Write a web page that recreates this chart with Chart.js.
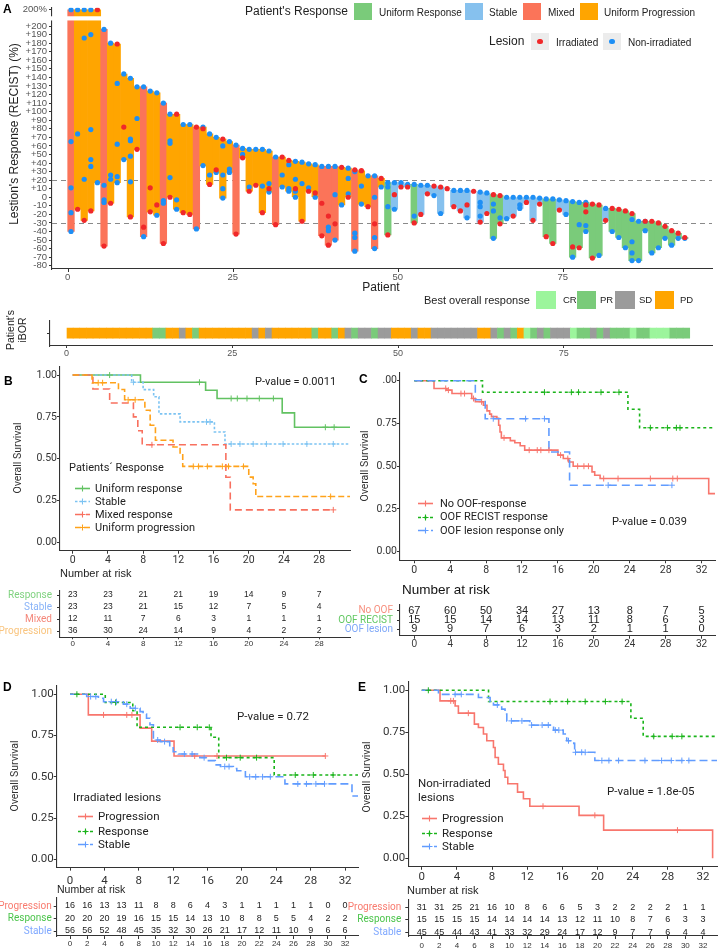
<!DOCTYPE html>
<html>
<head>
<meta charset="utf-8">
<title>Lesion response and overall survival</title>
<script src="https://cdn.jsdelivr.net/npm/chart.js@4.4.1/dist/chart.umd.min.js"></script>
<style>
  html, body { margin: 0; padding: 0; background: #fff; }
  #page { position: relative; width: 718px; height: 949px; overflow: hidden; background: #fff; }
  #page canvas { position: absolute; }
  .t { position: absolute; white-space: nowrap; line-height: 1.1; }
  .b { position: absolute; }
</style>
</head>
<body>
<div id="page"></div>
<script>
"use strict";

// ===== Panel A : waterfall =====
var CAP = 219; // the "200%" row above the axis break

var PATIENT_RESPONSE = [
  'MX','UP','UP','UP','UP','MX','UP','UP','UP','UP',
  'UP','MX','UP','UP','MX','UP','UP','UP','UP','MX',
  'UP','UP','UP','UP','UP','MX','UP','UP','UP','UP',
  'UP','MX','UP','UP','UP','UP','UP','UP','MX','MX',
  'MX','UP','UP','MX','UP','UP','MX','UP','UR','ST',
  'ST','ST','UR','ST','ST','ST','ST','ST','ST','ST',
  'ST','ST','ST','ST','UR','UR','ST','ST','ST','ST',
  'ST','ST','UR','UR','ST','ST','UR','UR','UR','UR',
  'UR','ST','UR','UR','UR','UR','UR','UR','UR','UR',
  'UR','UR','UR','UR'
];

var IRRADIATED = [
  [], [-14], [-27], [-16], [CAP], [-57], [-7], [179], [82], [-23],
  [56], [-35], [11, -17], [-9], [-54], [0], [97], [-18], [-20], [82],
  [80], [15], [32], [68], [], [-43], [46], [7], [14], [-18],
  [10], [-32], [47], [43], [10], [-28], [7], [5], [-7, -45], [-22, -56],
  [-31], [35], [0], [32], [31], [-11], [-31], [22], [-44], [3],
  [12], [12], [-30], [-20], [4], [13], [12], [10], [-11], [-16],
  [-9], [7], [-29], [-19], [3], [2, -31], [], [-22], [], [-6],
  [-27], [-8], [-46], [-54], [-15], [], [-58], [-59], [-9, -17], [-8, -71],
  [-9], [-27], [-13], [-14], [-16], [-19], [], [-28], [-28], [-30],
  [-34], [-39], [-42], [-47]
];

var NON_IRRADIATED = [
  [CAP, 65, 11, -18, -40], [CAP, 74], [CAP, 186, 21], [CAP, 190, 79, 44, 36], [17],
  [196, 14, -3, -6], [180, 26, 21], [133, 62, 24, 17], [144, 44], [139, 68, 66, 48, 18],
  [129, 92], [129, -46], [124], [122, -21], [110, -4, -7],
  [97, 66, 63, 23], [-3, -14], [85], [85], [-37],
  [82, 37], [74, 26], [70, 29], [60, 26, 10, -1], [65, 33, 29],
  [61], [57, 50], [56, 12], [56], [56, 13],
  [54, 16, 6], [47], [26, 12], [38, 10, 7], [42, 21, 7, 0],
  [41, 16], [39, 11], [38, 0], [36], [36, -35, -39],
  [36, 3, -50], [-9], [34, 22, 4], [30, -42, -47, -63], [13, -8],
  [25], [25, 0, -47, -60], [12], [17, 12, -11], [17, -14],
  [17], [15], [15, -22], [14], [14],
  [2], [-19], [], [8], [8],
  [8, -24], [], [6, -6, -11, -22], [5], [-8, -16, -48],
  [-24], [0, -25], [0], [0, -9, -13], [0],
  [0], [-1], [-2], [-2], [-3],
  [-4, -20], [-5, -70], [-6, -32], [-6, -33, -40], [],
  [-68], [-13], [-40], [-47], [-59],
  [-26, -52, -65, -74], [-28, -74], [-28, -39], [-65], [-59],
  [-48], [-56], [-48], [-48]
];

var BEST_OVERALL = [
  'PD','PD','PD','PD','PD','PD','PD','PD','PD','PD',
  'PD','PD','PD','PR','PR','PD','PD','SD','PD','PR',
  'PD','PD','PD','PD','PD','PD','PD','PD','SD','PD',
  'SD','PD','PD','PD','PD','PD','PD','PR','PD','PD',
  'PR','PD','SD','PR','SD','SD','PR','SD','SD','PD',
  'PD','PD','SD','PD','PD','SD','SD','SD','SD','SD',
  'SD','SD','PD','PD','SD','PR','SD','PR','PD','CR',
  'PR','SD','PR','SD','SD','SD','CR','PR','PR','SD',
  'PR','SD','PR','PR','PR','CR','PR','PR','CR','CR',
  'CR','PR','PR','PR'
];

var THRESHOLDS = [20, -30];
var X_TICKS_A = [0, 25, 50, 75];
var Y_TICKS_A = [-80, -70, -60, -50, -40, -30, -20, -10, 0, 10, 20, 30, 40, 50, 60, 70, 80, 90,
  100, 110, 120, 130, 140, 150, 160, 170, 180, 190, 200, CAP];

// ===== Panel B : patients' response =====
var B_UR_T = [0, 7.7, 15.1, 16.4, 23.8, 25.2, 31.5];
var B_UR_S = [1, 0.957, 0.909, 0.86, 0.774, 0.688, 0.688];
var B_UR_C = [4.2, 14.4, 18.0, 18.7, 19.8, 21.2, 22.8, 28.7, 29.7];
var B_ST_T = [0, 6.7, 8.0, 9.2, 9.8, 12.2, 16.1, 17.3, 31.5];
var B_ST_S = [1, 0.957, 0.913, 0.87, 0.768, 0.72, 0.66, 0.588, 0.588];
var B_ST_C = [6.9, 15.2, 15.6, 18.0, 19.0, 20.5, 22.0, 23.9, 26.6, 29.6];
var B_MX_T = [0, 2.3, 4.2, 6.9, 7.4, 7.9, 17.4, 17.9, 29.6];
var B_MX_S = [1, 0.917, 0.833, 0.75, 0.667, 0.583, 0.389, 0.194, 0.194];
var B_MX_C = [9.0, 29.6];
var B_UP_T = [0, 2.2, 5.2, 5.9, 8.2, 8.8, 9.4, 11.4, 12.2, 12.5, 20.0, 20.5, 20.8, 31.5];
var B_UP_S = [1, 0.954, 0.914, 0.852, 0.79, 0.7, 0.61, 0.57, 0.53, 0.454, 0.39, 0.35, 0.274, 0.274];
var B_UP_C = [2.9, 3.4, 6.3, 7.1, 13.7, 14.3, 15.3, 17.0, 17.7, 19.4, 29.3];
var B_RISK_T = [0, 4, 8, 12, 16, 20, 24, 28];
var B_RISK_LABELS = ['Response', 'Stable', 'Mixed', 'Progression'];
var B_RISK = [
  [23, 23, 21, 21, 19, 14, 9, 7],
  [23, 23, 21, 15, 12, 7, 5, 4],
  [12, 11, 7, 6, 3, 1, 1, 1],
  [36, 30, 24, 14, 9, 4, 2, 2]
];

// ===== Panel C : out-of-field response =====
var C_NO_T = [0, 2.2, 3.6, 4.2, 6.4, 6.8, 7.7, 8.1, 8.4, 8.6, 9.2, 9.4, 9.55, 9.7, 10.7, 11.2, 11.8, 12.3,
  16.0, 16.6, 17.2, 17.7, 19.8, 20.1, 20.7, 32.8, 33.5];
var C_NO_S = [1, 0.955, 0.945, 0.925, 0.896, 0.877, 0.857, 0.824, 0.805, 0.79, 0.78, 0.74, 0.70, 0.666, 0.65,
  0.637, 0.62, 0.594, 0.565, 0.545, 0.525, 0.5, 0.467, 0.447, 0.428, 0.34, 0.34];
var C_NO_C = [3.5, 3.8, 5.2, 5.6, 6.6, 7.5, 10.0, 12.8, 13.7, 14.1, 15.0, 16.3, 17.1, 18.2, 18.9, 19.4,
  21.1, 22.7, 26.3, 28.8, 29.3];
var C_REC_T = [0, 7.6, 23.8, 25.1, 33.5];
var C_REC_S = [1, 0.933, 0.833, 0.725, 0.725];
var C_REC_C = [14.5, 17.5, 18.3, 20.8, 22.8, 26.3, 28.2, 29.2, 29.6];
var C_LES_T = [0, 6.8, 7.9, 15.0, 17.3, 28.7];
var C_LES_S = [1, 0.889, 0.778, 0.583, 0.389, 0.389];
var C_LES_C = [8.8, 12.4, 14.5, 21.6, 28.7];
var C_RISK_T = [0, 4, 8, 12, 16, 20, 24, 28, 32];
var C_RISK_LABELS = ['No OOF', 'OOF RECIST', 'OOF lesion'];
var C_RISK = [
  [67, 60, 50, 34, 27, 13, 8, 7, 5],
  [15, 15, 14, 14, 13, 11, 8, 6, 3],
  [9, 9, 7, 6, 3, 2, 1, 1, 0]
];

// ===== Panel D : irradiated lesions =====
var D_PG_T = [0, 2.13, 8.15, 9.5, 12.1, 29.7];
var D_PG_S = [1, 0.875, 0.795, 0.716, 0.626, 0.626];
var D_PG_C = [3.9, 6.6, 7.2, 14.5, 17.1, 29.7];
var D_RS_T = [0, 4.1, 7.3, 7.8, 16.4, 17.3, 23.75, 33.8];
var D_RS_S = [1, 0.95, 0.90, 0.80, 0.74, 0.616, 0.511, 0.511];
var D_RS_C = [0.8, 5.3, 12.8, 14.8, 16.2, 18.2, 19.8, 21.7, 26.2, 28.3, 30.6];
var D_SB_T = [0, 1.94, 3.3, 3.9, 6.2, 7.0, 8.15, 8.5, 8.9, 9.3, 9.7, 10.5, 11.6, 12.0, 12.6, 15.1, 16.1,
  16.9, 17.5, 19.0, 19.4, 20.4, 25.0, 32.8, 33.8];
var D_SB_S = [1, 0.986, 0.976, 0.955, 0.94, 0.915, 0.895, 0.88, 0.855, 0.815, 0.723, 0.713, 0.683, 0.652,
  0.638, 0.616, 0.598, 0.572, 0.562, 0.55, 0.537, 0.5, 0.457, 0.384, 0.384];
var D_SB_C = [2.4, 3.0, 4.8, 5.4, 6.6, 7.6, 10.2, 11.0, 13.3, 14.2, 15.6, 18.0, 18.5, 20.9, 21.6, 22.4,
  23.3, 26.5, 27.5, 28.6, 29.6];
var DE_RISK_T = [0, 2, 4, 6, 8, 10, 12, 14, 16, 18, 20, 22, 24, 26, 28, 30, 32];
var LESION_RISK_LABELS = ['Progression', 'Response', 'Stable'];
var D_RISK = [
  [16, 16, 13, 13, 11, 8, 8, 6, 4, 3, 1, 1, 1, 1, 1, 0, 0],
  [20, 20, 20, 19, 16, 15, 15, 14, 13, 10, 8, 8, 5, 5, 4, 2, 2],
  [56, 56, 52, 48, 45, 35, 32, 30, 26, 21, 17, 12, 11, 10, 9, 6, 6]
];

// ===== Panel E : non-irradiated lesions =====
var E_PG_T = [0, 2.08, 3.8, 4.17, 5.99, 6.45, 7.02, 7.4, 8.16, 8.35, 8.72, 9.3, 9.48, 9.79, 10.9, 11.57,
  12.3, 17.9, 20.7, 33.1];
var E_PG_S = [1, 0.937, 0.907, 0.864, 0.799, 0.779, 0.74, 0.70, 0.66, 0.60, 0.56, 0.523, 0.483, 0.444,
  0.394, 0.355, 0.31, 0.256, 0.168, 0];
var E_PG_C = [3.3, 3.6, 5.3, 13.8, 19.7, 29.1];
var E_RS_T = [0, 7.6, 23.8, 25.2, 33.8];
var E_RS_S = [1, 0.933, 0.834, 0.726, 0.726];
var E_RS_C = [0.75, 14.6, 16.6, 18.6, 20.9, 22.8, 26.4, 28.5, 29.6];
var E_SB_T = [0, 1.9, 6.45, 7.78, 8.16, 9.1, 9.48, 9.68, 12.3, 15.0, 16.1, 16.5, 17.3, 17.4, 19.7, 33.8];
var E_SB_S = [1, 0.976, 0.957, 0.931, 0.913, 0.888, 0.858, 0.818, 0.793, 0.763, 0.74, 0.70, 0.684, 0.631,
  0.582, 0.582];
var E_SB_C = [3.8, 4.5, 8.6, 10.2, 11.4, 12.5, 13.7, 14.4, 15.2, 15.6, 16.7, 17.5, 18.2, 18.6, 20.5, 21.3,
  22.4, 25.4, 27.3, 28.4, 29.6, 30.4];
var E_RISK = [
  [31, 31, 25, 21, 16, 10, 8, 6, 6, 5, 3, 2, 2, 2, 2, 1, 1],
  [15, 15, 15, 15, 14, 14, 14, 14, 13, 12, 11, 10, 8, 7, 6, 3, 3],
  [45, 45, 44, 43, 41, 33, 32, 29, 24, 17, 12, 9, 7, 7, 6, 4, 4]
];

var KM_Y_TICKS = [0, 0.25, 0.5, 0.75, 1];

// ---------- styles ----------
var KMF = "Roboto, 'Liberation Sans', sans-serif";
var ARF = "'Liberation Sans', Arial, sans-serif";
var AXIS_C = '#333';
var RESP_COLORS = { UR: '#7acb7a', ST: '#86c1ee', MX: '#fb7459', UP: '#ffa500' };
var BOR_COLORS = { CR: '#9cf59c', PR: '#7acb7a', SD: '#9b9b9b', PD: '#ffa500' };
var RED_DOT = '#f0282a', BLUE_DOT = '#1e8ff5';
var KM_RED = '#f8766d', KM_GREEN = '#1ab41a', KM_BLUE = '#619cff';

Chart.defaults.animation = false;
Chart.defaults.font.family = ARF;

var page = document.getElementById('page');

function mkCanvas(x, y, w, h) {
  var c = document.createElement('canvas');
  c.width = w; c.height = h;
  c.style.left = x + 'px'; c.style.top = y + 'px';
  c.style.width = w + 'px'; c.style.height = h + 'px';
  page.appendChild(c);
  return c;
}

function txt(s, x, y, o) {
  o = o || {};
  var d = document.createElement('div');
  d.className = 't';
  if (o.html) d.innerHTML = s; else d.textContent = s;
  d.style.left = x + 'px';
  d.style.top = y + 'px';
  d.style.fontSize = (o.size || 11) + 'px';
  d.style.fontFamily = o.font || KMF;
  d.style.color = o.color || '#222';
  if (o.bold) d.style.fontWeight = 'bold';
  if (o.rot) {
    d.style.textAlign = 'center';
    d.style.transform = 'translate(-50%,-50%) rotate(-90deg)';
  } else {
    var tx = o.align === 'right' ? '-100%' : o.align === 'center' ? '-50%' : '0';
    d.style.transform = 'translate(' + tx + ',-50%)';
  }
  page.appendChild(d);
}

function box(x, y, w, h, color) {
  var d = document.createElement('div');
  d.className = 'b';
  d.style.cssText = 'left:' + x + 'px;top:' + y + 'px;width:' + w + 'px;height:' + h + 'px;background:' + color;
  page.appendChild(d);
}

function dot(cx, cy, r, color) {
  var d = document.createElement('div');
  d.className = 'b';
  d.style.cssText = 'left:' + (cx - r) + 'px;top:' + (cy - r) + 'px;width:' + (2 * r) + 'px;height:' + (2 * r) +
    'px;border-radius:50%;background:' + color;
  page.appendChild(d);
}

function keyLine(x, y, color, dash) {
  var svg = '<svg width="15" height="9" style="position:absolute;left:' + x + 'px;top:' + (y - 4.5) + 'px">' +
    '<line x1="0" y1="4.5" x2="15" y2="4.5" stroke="' + color + '" stroke-width="1.6"' +
    (dash ? ' stroke-dasharray="' + dash.join(',') + '"' : '') + '/>' +
    '<path d="M7.5 1.5V7.5M4.5 4.5H10.5" stroke="' + color + '" stroke-width="1.1"/></svg>';
  page.insertAdjacentHTML('beforeend', svg);
}

function fixW(w) { return function(s) { s.width = w; }; }
function fixH(h) { return function(s) { s.height = h; }; }
function setTicks(vals) {
  return function(s) { s.ticks = vals.map(function(v) { return { value: v }; }); };
}

function axis(o, tl) {
  o.grid = { drawOnChartArea: false, drawTicks: true, offset: false, tickLength: tl == null ? 3 : tl,
    color: AXIS_C, lineWidth: 1 };
  o.border = { display: true, color: AXIS_C, width: 1.1 };
  o.ticks = o.ticks || {};
  o.ticks.autoSkip = false;
  o.ticks.maxRotation = 0;
  if (!o.ticks.color) o.ticks.color = '#333';
  return o;
}

function stepAt(T, S, t) {
  var v = S[0];
  for (var i = 0; i < T.length; i++) { if (T[i] <= t) v = S[i]; }
  return v;
}

// dashed reference lines at +20% / -30%, and the x tick marks of the waterfall
var thresholdLines = {
  id: 'thresholdLines',
  beforeDatasetsDraw: function(chart) {
    var ctx = chart.ctx, a = chart.chartArea, y = chart.scales.y, x = chart.scales.x;
    ctx.save();
    ctx.strokeStyle = '#8a8a8a';
    ctx.lineWidth = 1;
    ctx.setLineDash([5, 4]);
    THRESHOLDS.forEach(function(v) {
      var py = Math.round(y.getPixelForValue(v)) + 0.5;
      ctx.beginPath(); ctx.moveTo(a.left, py); ctx.lineTo(a.right, py); ctx.stroke();
    });
    ctx.setLineDash([]);
    ctx.strokeStyle = AXIS_C;
    X_TICKS_A.forEach(function(v) {
      var px = Math.round(x.getPixelForValue(v)) + 0.5;
      ctx.beginPath(); ctx.moveTo(px, a.bottom); ctx.lineTo(px, a.bottom + 3); ctx.stroke();
    });
    ctx.restore();
  }
};

// gap between the 200% row and the regular axis
var axisBreak = {
  id: 'axisBreak',
  afterDatasetsDraw: function(chart) {
    var ctx = chart.ctx, a = chart.chartArea, y = chart.scales.y;
    var top = y.getPixelForValue(211.4), bottom = y.getPixelForValue(206.5);
    ctx.save();
    ctx.fillStyle = '#fff';
    ctx.fillRect(a.left - 1, top, a.right - a.left + 1, bottom - top);
    ctx.restore();
  }
};

// numbers at risk, placed on the scales from each point
var riskText = {
  id: 'riskText',
  afterDatasetsDraw: function(chart, args, opts) {
    var ctx = chart.ctx;
    ctx.save();
    ctx.font = opts.font;
    ctx.fillStyle = '#222';
    ctx.textAlign = 'center';
    ctx.textBaseline = 'middle';
    chart.data.datasets.forEach(function(ds, di) {
      chart.getDatasetMeta(di).data.forEach(function(el, i) {
        ctx.fillText(String(ds.data[i].n), el.x, el.y);
      });
    });
    ctx.restore();
  }
};

// ---------- Panel A : waterfall ----------
function lesionPoints(list) {
  var pts = [];
  list.forEach(function(vals, i) {
    vals.forEach(function(v) { pts.push({ x: i + 0.5, y: v }); });
  });
  return pts;
}

var wfBars = PATIENT_RESPONSE.map(function(code, i) {
  var all = IRRADIATED[i].concat(NON_IRRADIATED[i]);
  return { x: i + 0.5, y: [Math.min.apply(null, all), Math.max.apply(null, all)] };
});

var xA = axis({ type: 'linear', min: -2.38, max: 97.62, offset: false,
  afterBuildTicks: setTicks(X_TICKS_A), afterFit: fixH(21),
  ticks: { padding: 3, color: '#555', font: { size: 9.5 } } }, 3);
xA.grid = { display: false, drawTicks: false };

new Chart(mkCanvas(0, 0, 718, 290), {
  type: 'scatter',
  data: {
    datasets: [
      { type: 'scatter', label: 'Irradiated', data: lesionPoints(IRRADIATED), backgroundColor: RED_DOT,
        borderWidth: 0, pointRadius: 2.6, order: 0 },
      { type: 'scatter', label: 'Non-irradiated', data: lesionPoints(NON_IRRADIATED), backgroundColor: BLUE_DOT,
        borderWidth: 0, pointRadius: 2.6, order: 1 },
      { type: 'bar', label: "Patient's Response", data: wfBars,
        backgroundColor: PATIENT_RESPONSE.map(function(c) { return RESP_COLORS[c]; }),
        barPercentage: 1, categoryPercentage: 1, borderWidth: 0, order: 2 }
    ]
  },
  options: {
    responsive: false,
    layout: { autoPadding: false, padding: { left: 0, right: 6, top: 2, bottom: 0 } },
    plugins: { legend: { display: false }, tooltip: { enabled: false } },
    scales: {
      x: xA,
      y: axis({ type: 'linear', min: -83.8, max: 221.4,
        afterBuildTicks: setTicks(Y_TICKS_A), afterFit: fixW(52),
        ticks: { padding: 2, color: '#555', font: { size: 9.5 },
          callback: function(v) { return v === CAP ? '200%' : (v > 0 ? '+' + v : String(v)); } } }, 3)
    }
  },
  plugins: [thresholdLines, axisBreak]
});

// ---------- Panel A : best overall response strip ----------
new Chart(mkCanvas(0, 310, 718, 50), {
  type: 'bar',
  data: {
    datasets: [{
      data: BEST_OVERALL.map(function(c, i) { return { x: [i, i + 1], y: 0 }; }),
      backgroundColor: BEST_OVERALL.map(function(c) { return BOR_COLORS[c]; }),
      borderWidth: 0, barThickness: 10
    }]
  },
  options: {
    responsive: false,
    indexAxis: 'y',
    layout: { autoPadding: false, padding: { left: 0, right: 6, top: 6, bottom: 0 } },
    plugins: { legend: { display: false }, tooltip: { enabled: false } },
    scales: {
      x: axis({ type: 'linear', min: -2.49, max: 97.36, offset: false,
        afterBuildTicks: setTicks(X_TICKS_A), afterFit: fixH(14),
        ticks: { padding: 0, color: '#555', font: { size: 9 } } }, 2),
      y: axis({ type: 'linear', min: -1, max: 1, offset: false,
        afterBuildTicks: setTicks([0]), afterFit: fixW(50),
        ticks: { callback: function() { return ''; } } }, 3)
    }
  }
});

// ---------- Kaplan-Meier helpers ----------
function kmChart(b, curves, o) {
  var datasets = [];
  curves.forEach(function(c) {
    datasets.push({ type: 'line', data: c.t.map(function(t, i) { return { x: t, y: c.s[i] }; }),
      stepped: true, borderColor: c.color, borderWidth: 1.6, borderDash: c.dash || [],
      pointRadius: 0, fill: false, order: 2 });
    datasets.push({ type: 'scatter', data: c.cens.map(function(t) { return { x: t, y: stepAt(c.t, c.s, t) }; }),
      pointStyle: 'cross', pointRadius: 3, borderColor: c.color, backgroundColor: c.color,
      borderWidth: 1, order: 1 });
  });
  return new Chart(mkCanvas(b.x, b.y, b.w, b.h), {
    type: 'line',
    data: { datasets: datasets },
    options: {
      responsive: false,
      layout: { autoPadding: false, padding: { left: 0, right: b.pr, top: b.pt, bottom: 0 } },
      plugins: { legend: { display: false }, tooltip: { enabled: false } },
      scales: {
        x: axis({ type: 'linear', min: o.xMin, max: o.xMax,
          afterBuildTicks: setTicks(o.xTicks), afterFit: fixH(b.xh),
          ticks: { padding: o.xPad, font: { family: KMF, size: o.fs } } }, 3),
        y: axis({ type: 'linear', min: -0.05, max: 1.05,
          afterBuildTicks: setTicks(KM_Y_TICKS), afterFit: fixW(b.yw),
          ticks: { padding: o.yPad, font: { family: KMF, size: o.fs },
            callback: o.yLabel || function(v) { return v.toFixed(2); } } }, 3)
      }
    }
  });
}

function riskChart(b, labels, colors, counts, times, o) {
  var datasets = counts.map(function(row, ri) {
    return { type: 'scatter', data: row.map(function(n, j) { return { x: times[j], y: ri, n: n }; }),
      pointRadius: 0 };
  });
  return new Chart(mkCanvas(b.x, b.y, b.w, b.h), {
    type: 'scatter',
    data: { datasets: datasets },
    options: {
      responsive: false,
      layout: { autoPadding: false, padding: { left: 0, right: b.pr, top: b.pt, bottom: 0 } },
      plugins: { legend: { display: false }, tooltip: { enabled: false }, riskText: { font: o.numFont } },
      scales: {
        x: axis({ type: 'linear', min: o.xMin, max: o.xMax,
          afterBuildTicks: setTicks(times), afterFit: fixH(b.xh),
          ticks: { padding: o.xPad, font: { family: ARF, size: o.tickSize } } }, o.xTl),
        y: axis({ type: 'linear', reverse: true, min: o.yMin, max: o.yMax,
          afterBuildTicks: setTicks(labels.map(function(l, i) { return i; })), afterFit: fixW(b.yw),
          ticks: { padding: o.yPad, font: { family: KMF, size: o.labelSize },
            color: function(c) { return colors[c.index]; },
            callback: function(v) { return labels[v] || ''; } } }, 3)
      }
    },
    plugins: [riskText]
  });
}

// ---------- Panel B ----------
kmChart({ x: 0, y: 355, w: 355, h: 210, pt: 11.7, pr: 5, yw: 60, xh: 14.3 }, [
  { t: B_UP_T, s: B_UP_S, cens: B_UP_C, color: '#ffa21a', dash: [6, 3] },
  { t: B_MX_T, s: B_MX_S, cens: B_MX_C, color: '#f8705f', dash: [7, 4] },
  { t: B_ST_T, s: B_ST_S, cens: B_ST_C, color: '#7cc3f2', dash: [2.5, 2] },
  { t: B_UR_T, s: B_UR_S, cens: B_UR_C, color: '#62c262' }
], { xMin: -1.44, xMax: 31.5, xTicks: B_RISK_T, fs: 10.5, xPad: 0, yPad: 0 });

riskChart({ x: 0, y: 580, w: 355, h: 70, pt: 8, pr: 5, yw: 60, xh: 12.7 }, B_RISK_LABELS,
  ['#7fd27f', '#8ab4f8', '#f4877a', '#f9c47e'], B_RISK, B_RISK_T,
  { xMin: -1.44, xMax: 31.5, yMin: -0.34, yMax: 3.52, numFont: "8.5px 'Liberation Sans'",
    tickSize: 8, labelSize: 10, xPad: 0, xTl: 2, yPad: 5 });

// ---------- Panel C ----------
kmChart({ x: 355, y: 360, w: 363, h: 215, pt: 12.2, pr: 3, yw: 45, xh: 14.75 }, [
  { t: C_LES_T, s: C_LES_S, cens: C_LES_C, color: KM_BLUE, dash: [8, 5] },
  { t: C_REC_T, s: C_REC_S, cens: C_REC_C, color: KM_GREEN, dash: [3, 3] },
  { t: C_NO_T, s: C_NO_S, cens: C_NO_C, color: KM_RED }
], { xMin: -1.59, xMax: 33.5, xTicks: C_RISK_T, fs: 10.5, xPad: 1, yPad: 0,
  yLabel: function(v) { return v === 1 ? '.00' : v.toFixed(2); } });

riskChart({ x: 330, y: 595, w: 388, h: 60, pt: 8, pr: 3, yw: 70, xh: 19.3 }, C_RISK_LABELS,
  ['#f7907f', '#62c862', '#7fa8f8'], C_RISK, C_RISK_T,
  { xMin: -1.59, xMax: 33.5, yMin: -0.64, yMax: 2.68, numFont: "11px 'Liberation Sans'",
    tickSize: 10, labelSize: 10, xPad: 0, xTl: 3, yPad: 4 });

// ---------- Panel D ----------
kmChart({ x: 0, y: 675, w: 360, h: 210, pt: 11, pr: 2, yw: 56.7, xh: 17.4 }, [
  { t: D_SB_T, s: D_SB_S, cens: D_SB_C, color: KM_BLUE, dash: [8, 4] },
  { t: D_RS_T, s: D_RS_S, cens: D_RS_C, color: KM_GREEN, dash: [3, 3] },
  { t: D_PG_T, s: D_PG_S, cens: D_PG_C, color: KM_RED }
], { xMin: -1.55, xMax: 33.5, xTicks: C_RISK_T, fs: 11.5, xPad: 4, yPad: 0 });

riskChart({ x: 0, y: 890, w: 360, h: 59, pt: 8, pr: 2, yw: 56.7, xh: 13 }, LESION_RISK_LABELS,
  ['#f87b6f', '#4cc44c', '#7fa8ff'], D_RISK, DE_RISK_T,
  { xMin: -1.55, xMax: 33.5, yMin: -0.64, yMax: 2.4, numFont: "9px 'Liberation Sans'",
    tickSize: 8, labelSize: 10, xPad: 0, xTl: 3, yPad: 2 });

// ---------- Panel E ----------
kmChart({ x: 355, y: 675, w: 363, h: 210, pt: 5.9, pr: 1, yw: 53.3, xh: 18.25 }, [
  { t: E_SB_T, s: E_SB_S, cens: E_SB_C, color: KM_BLUE, dash: [8, 4] },
  { t: E_RS_T, s: E_RS_S, cens: E_RS_C, color: KM_GREEN, dash: [3, 3] },
  { t: E_PG_T, s: E_PG_S, cens: E_PG_C, color: KM_RED }
], { xMin: -1.53, xMax: 33.6, xTicks: C_RISK_T, fs: 11.5, xPad: 0, yPad: 0 });

riskChart({ x: 330, y: 890, w: 388, h: 59, pt: 9, pr: 1, yw: 78.3, xh: 13 }, LESION_RISK_LABELS,
  ['#f87b6f', '#4cc44c', '#7fa8ff'], E_RISK, DE_RISK_T,
  { xMin: -1.53, xMax: 33.6, yMin: -0.64, yMax: 2.32, numFont: "9px 'Liberation Sans'",
    tickSize: 8, labelSize: 10, xPad: 2, xTl: 3, yPad: 4 });

// ---------- texts and legends ----------
// Panel A
txt('A', 3, 10, { size: 12, bold: true, font: ARF, color: '#000' });
txt("Lestion's Response (RECIST) (%)", 15, 134, { size: 12, rot: true, font: ARF });
txt('Patient', 381, 288, { size: 12, align: 'center', font: ARF });
txt("Patient's Response", 245, 12, { size: 12, font: ARF });
box(354, 3, 18, 17, RESP_COLORS.UR); txt('Uniform Response', 379, 11.5, { size: 10, font: ARF });
box(465, 3, 18, 17, RESP_COLORS.ST); txt('Stable', 489, 11.5, { size: 10, font: ARF });
box(523, 3, 18, 17, RESP_COLORS.MX); txt('Mixed', 548, 11.5, { size: 10, font: ARF });
box(580, 3, 18, 17, RESP_COLORS.UP); txt('Uniform Progression', 604, 11.5, { size: 10, font: ARF });
txt('Lesion', 489, 42, { size: 12, font: ARF });
box(531, 33, 18, 17, '#ececec'); dot(540, 41.5, 2.6, RED_DOT);
txt('Irradiated', 556, 42, { size: 10, font: ARF });
box(603, 33, 18, 17, '#ececec'); dot(612, 41.5, 2.6, BLUE_DOT);
txt('Non-irradiated', 628, 42, { size: 10, font: ARF });
txt('Best overall response', 424, 300, { size: 11, font: ARF });
box(536, 291, 20, 18, BOR_COLORS.CR); txt('CR', 563, 300, { size: 9.5, font: ARF });
box(577, 291, 19, 18, BOR_COLORS.PR); txt('PR', 600, 300, { size: 9.5, font: ARF });
box(615, 291, 20, 18, BOR_COLORS.SD); txt('SD', 639, 300, { size: 9.5, font: ARF });
box(655, 291, 19, 18, BOR_COLORS.PD); txt('PD', 680, 300, { size: 9.5, font: ARF });
txt("Patient's<br>iBOR", 17, 330, { size: 10.5, rot: true, font: ARF, html: true });

// Panel B
txt('B', 4, 382, { size: 12, bold: true, font: ARF, color: '#000' });
txt('Overall Survival', 18, 458, { size: 10.5, rot: true, color: '#333' });
txt('P-value = 0.0011', 255, 382, { size: 11 });
txt('Patients´ Response', 69, 468, { size: 11 });
keyLine(75, 488.5, '#62c262', null); txt('Uniform response', 95, 488.5, { size: 11 });
keyLine(75, 501.5, '#7cc3f2', [2.5, 2]); txt('Stable', 95, 501.5, { size: 11 });
keyLine(75, 514.5, '#f8705f', [7, 4]); txt('Mixed response', 95, 514.5, { size: 11 });
keyLine(75, 527.5, '#ffa21a', [6, 3]); txt('Uniform progression', 95, 527.5, { size: 11 });
txt('Number at risk', 60, 573, { size: 11, font: ARF });

// Panel C
txt('C', 359, 380, { size: 12, bold: true, font: ARF, color: '#000' });
txt('Overall Survival', 365, 466, { size: 10.5, rot: true, color: '#333' });
keyLine(418, 503.5, KM_RED, null); txt('No OOF-response', 440, 503.5, { size: 11 });
keyLine(418, 517, KM_GREEN, [3, 3]); txt('OOF RECIST response', 440, 517, { size: 11 });
keyLine(418, 530.5, KM_BLUE, [8, 5]); txt('OOF lesion response only', 440, 530.5, { size: 11 });
txt('P-value = 0.039', 612, 522, { size: 11 });
txt('Number at risk', 402, 590, { size: 13.5, font: ARF, color: '#111' });

// Panel D
txt('D', 3, 688, { size: 12, bold: true, font: ARF, color: '#000' });
txt('Overall Survival', 15, 776, { size: 10.5, rot: true, color: '#333' });
txt('P-value = 0.72', 237, 716, { size: 11.5 });
txt('Irradiated lesions', 73, 797, { size: 11.5 });
keyLine(78, 816, KM_RED, null); txt('Progression', 98, 816, { size: 11.5 });
keyLine(78, 831, KM_GREEN, [3, 3]); txt('Response', 98, 831, { size: 11.5 });
keyLine(78, 844, KM_BLUE, [8, 4]); txt('Stable', 98, 844, { size: 11.5 });
txt('Number at risk', 57, 890, { size: 10.5, font: ARF });

// Panel E
txt('E', 358, 688, { size: 12, bold: true, font: ARF, color: '#000' });
txt('Overall Survival', 367, 777, { size: 10.5, rot: true, color: '#333' });
txt('Non-irradiated', 418, 783, { size: 11.5 });
txt('lesions', 418, 797, { size: 11.5 });
keyLine(422, 818, KM_RED, null); txt('Progression', 442, 818, { size: 11.5 });
keyLine(422, 833, KM_GREEN, [3, 3]); txt('Response', 442, 833, { size: 11.5 });
keyLine(422, 846, KM_BLUE, [8, 4]); txt('Stable', 442, 846, { size: 11.5 });
txt('P-value = 1.8e-05', 607, 791, { size: 11.5 });
txt('Number at risk', 407, 890, { size: 11, font: ARF });
</script>
</body>
</html>
